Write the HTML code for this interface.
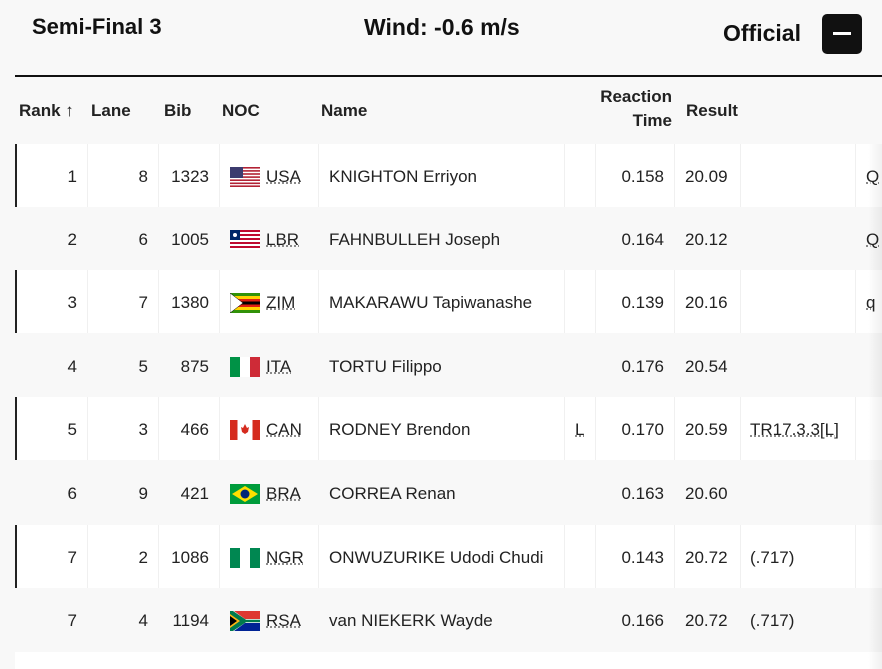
<!DOCTYPE html>
<html><head><meta charset="utf-8"><style>
*{margin:0;padding:0;box-sizing:border-box}
html,body{width:882px;height:669px;overflow:hidden}
body{background:#f8f8f8;font-family:"Liberation Sans",sans-serif;color:#222;position:relative}
.a{position:absolute;white-space:nowrap}
.h{font-weight:bold;font-size:22px;color:#111}
.th{font-weight:bold;font-size:17px;color:#222}
.row{position:absolute;left:15px;width:867px;height:63px}
.w{background:#fff;border-left:2px solid #222}
.vl{position:absolute;top:0;bottom:0;width:1px;background:#f0f0f0}
.t{position:absolute;font-size:17px;line-height:20px;top:23px;white-space:nowrap}
.r{text-align:right}
.u{text-decoration:underline dotted #777}
svg{position:absolute;top:23px;left:215px}
</style></head><body>
<div class="a h" style="left:32px;top:14px">Semi-Final 3</div>
<div class="a h" style="left:364px;top:14px;font-size:23px">Wind: -0.6 m/s</div>
<div class="a h" style="left:723px;top:20px;font-size:23px">Official</div>
<div class="a" style="left:822px;top:14px;width:40px;height:40px;background:#111;border-radius:5px"><div style="position:absolute;left:11px;top:18px;width:18px;height:3px;background:#fff"></div></div>
<div class="a" style="left:15px;top:75px;width:867px;height:2px;background:#111"></div>
<div class="a th" style="left:19px;top:101px">Rank ↑</div>
<div class="a th" style="left:91px;top:101px">Lane</div>
<div class="a th" style="left:164px;top:101px">Bib</div>
<div class="a th" style="left:222px;top:101px">NOC</div>
<div class="a th" style="left:321px;top:101px">Name</div>
<div class="a th" style="left:596px;top:85px;text-align:right;width:76px;line-height:24px">Reaction<br>Time</div>
<div class="a th" style="left:686px;top:101px">Result</div>

<div id="rows"></div>
<div class="a" style="left:868px;top:144px;width:14px;height:525px;background:linear-gradient(90deg,rgba(0,0,0,0),rgba(0,0,0,0.06))"></div>
<script>
const flags={
USA:'<rect width="30" height="20" fill="#fff"/><g fill="#b22234"><rect y="0" width="30" height="1.6"/><rect y="3.1" width="30" height="1.6"/><rect y="6.2" width="30" height="1.6"/><rect y="9.3" width="30" height="1.6"/><rect y="12.4" width="30" height="1.6"/><rect y="15.5" width="30" height="1.6"/><rect y="18.4" width="30" height="1.6"/></g><rect width="13" height="11" fill="#3c3b6e"/>',
LBR:'<rect width="30" height="20" fill="#fff"/><g fill="#bf0a30"><rect y="0" width="30" height="2"/><rect y="4" width="30" height="2"/><rect y="8" width="30" height="2"/><rect y="12" width="30" height="2"/><rect y="16" width="30" height="2"/></g><rect width="10" height="10" fill="#002868"/><circle cx="5" cy="5" r="2" fill="#fff"/>',
ZIM:'<rect width="30" height="20" fill="#319208"/><rect y="3" width="30" height="14" fill="#ffd200"/><rect y="6" width="30" height="8" fill="#de2010"/><rect y="8.5" width="30" height="3" fill="#000"/><polygon points="0,0 13,10 0,20" fill="#fff" stroke="#000" stroke-width=".5"/>',
ITA:'<rect width="10" height="20" fill="#009246"/><rect x="10" width="10" height="20" fill="#fff"/><rect x="20" width="10" height="20" fill="#ce2b37"/>',
CAN:'<rect width="30" height="20" fill="#fff"/><rect width="7.5" height="20" fill="#d52b1e"/><rect x="22.5" width="7.5" height="20" fill="#d52b1e"/><polygon points="15,4 17,8 19,7 18,12 15,14 12,12 11,7 13,8" fill="#d52b1e"/>',
BRA:'<rect width="30" height="20" fill="#009c3b"/><polygon points="15,2 28,10 15,18 2,10" fill="#ffdf00"/><circle cx="15" cy="10" r="4.5" fill="#002776"/>',
NGR:'<rect width="10" height="20" fill="#008751"/><rect x="10" width="10" height="20" fill="#fff"/><rect x="20" width="10" height="20" fill="#008751"/>',
RSA:'<rect width="30" height="10" fill="#de3831"/><rect y="10" width="30" height="10" fill="#002395"/><polygon points="0,0 4,0 15,8 30,8 30,12 15,12 4,20 0,20" fill="#fff"/><polygon points="0,0 3,0 16,8.8 30,8.8 30,11.2 16,11.2 3,20 0,20" fill="#007a4d"/><polygon points="0,3 10,10 0,17" fill="#ffb612"/><polygon points="0,5 7,10 0,15" fill="#000"/>'
};
const d=[[1,8,1323,'USA','KNIGHTON Erriyon','','0.158','20.09','','Q'],
[2,6,1005,'LBR','FAHNBULLEH Joseph','','0.164','20.12','','Q'],
[3,7,1380,'ZIM','MAKARAWU Tapiwanashe','','0.139','20.16','','q'],
[4,5,875,'ITA','TORTU Filippo','','0.176','20.54','',''],
[5,3,466,'CAN','RODNEY Brendon','L','0.170','20.59','TR17.3.3[L]',''],
[6,9,421,'BRA','CORREA Renan','','0.163','20.60','',''],
[7,2,1086,'NGR','ONWUZURIKE Udodi Chudi','','0.143','20.72','(.717)',''],
[7,4,1194,'RSA','van NIEKERK Wayde','','0.166','20.72','(.717)','']];
const tops=[144,207,270,334,397,461,525,588];
let h='';
d.forEach((r,i)=>{
 const w=i%2==0;
 h+=`<div class="row ${w?'w':''}" style="top:${tops[i]}px">`;
 if(w)[72,143,204,303,549,580,659,725,840].forEach(x=>h+=`<div class="vl" style="left:${x-2}px"></div>`);
 const o=w?-2:0;
 h+=`<div class="t r" style="left:${o}px;width:62px">${r[0]}</div>`;
 h+=`<div class="t r" style="left:${o}px;width:133px">${r[1]}</div>`;
 h+=`<div class="t r" style="left:${o}px;width:194px">${r[2]}</div>`;
 h+=`<svg style="left:${215+o}px" width="30" height="20" viewBox="0 0 30 20">${flags[r[3]]}</svg>`;
 h+=`<div class="t u" style="left:${251+o}px">${r[3]}</div>`;
 h+=`<div class="t" style="left:${314+o}px">${r[4]}</div>`;
 if(r[5])h+=`<div class="t u" style="left:${560+o}px">${r[5]}</div>`;
 h+=`<div class="t r" style="left:${o}px;width:649px">${r[6]}</div>`;
 h+=`<div class="t" style="left:${670+o}px">${r[7]}</div>`;
 if(r[8])h+=`<div class="t ${r[8][0]=='T'?'u':''}" style="left:${735+o}px">${r[8]}</div>`;
 if(r[9])h+=`<div class="t u" style="left:${851+o}px">${r[9]}</div>`;
 h+='</div>';
});
h+='<div class="row" style="top:652px;height:17px;background:#fff"></div>';
document.getElementById('rows').innerHTML=h;
</script>
</body></html>
